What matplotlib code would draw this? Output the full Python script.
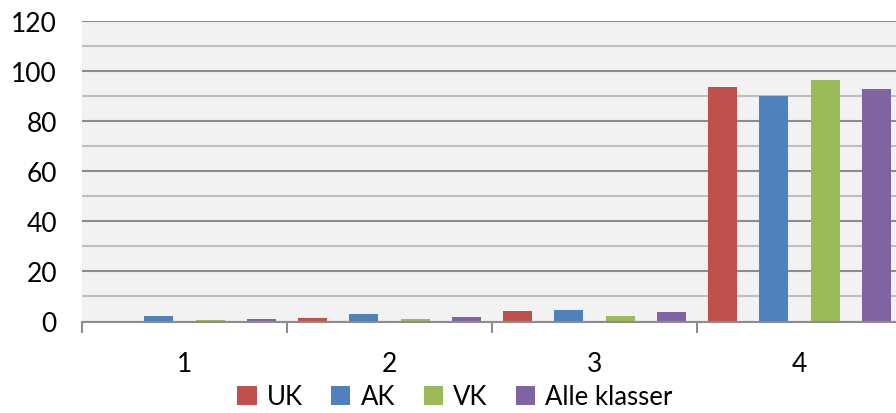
import matplotlib
matplotlib.use("Agg")
import matplotlib.pyplot as plt
import numpy as np
from matplotlib.patches import Patch

categories = ["1", "2", "3", "4"]
series_names = ["UK", "AK", "VK", "Alle klasser"]
uk = [0.0, 1.5, 4.3, 93.6]
ak = [2.3, 2.8, 4.7, 90.0]
vk = [0.7, 1.1, 2.0, 96.3]
alle = [1.1, 1.9, 3.9, 92.8]
yticks = [0, 20, 40, 60, 80, 100, 120]

colors = ["#C0504D", "#4F81BD", "#9BBB59", "#8064A2"]
plt.rcParams['font.family'] = ['Lato', 'DejaVu Sans']

fig = plt.figure(figsize=(8.96, 4.14), dpi=100)
ax = fig.add_axes([82/896, 1-322.5/414, 820/896, 300.5/414])
ax.set_facecolor("#F2F2F2")

x = np.arange(1, len(categories)+1)
step = 0.249
width = 0.1415
for i, (vals, c) in enumerate(zip([uk, ak, vk, alle], colors)):
    ax.bar(x + (i-1.5)*step, vals, width=width, color=c, zorder=3)

ax.set_xlim(0.5, 4.5)
ax.set_ylim(0, 120)
ax.set_yticks(yticks)
ax.set_yticks(np.arange(10, 120, 20), minor=True)
ax.grid(axis='y', which='major', color='#8C8C8C', linewidth=1.5, zorder=1)
ax.grid(axis='y', which='minor', color='#BFBFBF', linewidth=1.5, zorder=1)
ax.tick_params(axis='y', which='both', length=0, pad=18, labelsize=19)

ax.set_xticks(x)
ax.set_xticklabels(categories)
ax.set_xticks(np.arange(0.5, 5, 1), minor=True)
ax.tick_params(axis='x', which='major', length=0, pad=21, labelsize=19)
ax.tick_params(axis='x', which='minor', length=8, width=1.5, color='#8C8C8C')

for s in ['top', 'right', 'left']:
    ax.spines[s].set_visible(False)
ax.spines['bottom'].set_color('#8C8C8C')
ax.spines['bottom'].set_linewidth(1.5)
ax.spines['bottom'].set_zorder(4)

handles = [Patch(facecolor=c, edgecolor='none') for c in colors]
fig.legend(handles, series_names, loc='center', bbox_to_anchor=(455/896, 1-398/414),
           ncol=4, frameon=False, fontsize=18.5, handlelength=0.75, handleheight=0.75,
           handletextpad=0.4, columnspacing=1.1, borderpad=0)

fig.savefig("out.png", dpi=100)
